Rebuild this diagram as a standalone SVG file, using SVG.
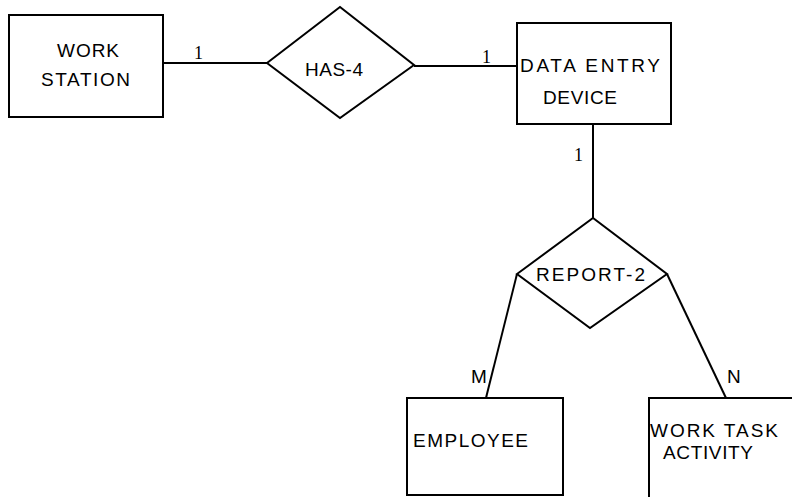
<svg xmlns="http://www.w3.org/2000/svg" width="792" height="497" viewBox="0 0 792 497">
<style>
.n{fill:#fff;stroke:#000;stroke-width:2}
.c{fill:none;stroke:#000;stroke-width:2}
text{font-family:"Liberation Sans",Arial,sans-serif;font-size:19px;fill:#000}
.k{font-family:"Liberation Serif","Times New Roman",serif;font-size:18px}
</style>
<rect width="792" height="497" fill="#fff"/>
<g id="connectors">
<line class="c" x1="163" y1="63" x2="267" y2="63"/>
<line class="c" x1="414" y1="66" x2="517" y2="66"/>
<line class="c" x1="593" y1="124" x2="593" y2="218"/>
<line class="c" x1="517" y1="274" x2="486" y2="398"/>
<line class="c" x1="667" y1="274" x2="726" y2="398"/>
<text class="k" x="194" y="59">1</text>
<text class="k" x="482" y="63">1</text>
<text class="k" x="574" y="161">1</text>
<text x="471" y="383">M</text>
<text x="727" y="383">N</text>
</g>
<g id="work-station">
<rect class="n" x="9" y="15" width="154" height="102"/>
<text x="57" y="57" textLength="62" lengthAdjust="spacing">WORK</text>
<text x="41" y="86" textLength="89" lengthAdjust="spacing">STATION</text>
</g>
<g id="has-4">
<polygon class="n" points="267,63 340,7 414,65 340,118"/>
<text x="305" y="76" textLength="58" lengthAdjust="spacing">HAS-4</text>
</g>
<g id="data-entry-device">
<rect class="n" x="517" y="23" width="154" height="101"/>
<text x="520" y="72" textLength="140" lengthAdjust="spacing">DATA ENTRY</text>
<text x="543" y="104" textLength="74" lengthAdjust="spacing">DEVICE</text>
</g>
<g id="report-2">
<polygon class="n" points="517,274 593,218 667,274 590,328"/>
<text x="536" y="281" textLength="109" lengthAdjust="spacing">REPORT-2</text>
</g>
<g id="employee">
<rect class="n" x="407" y="398" width="156" height="97"/>
<text x="413" y="447" textLength="115" lengthAdjust="spacing">EMPLOYEE</text>
</g>
<g id="work-task-activity">
<rect class="n" x="649" y="398" width="160" height="110"/>
<text x="650" y="437" textLength="128" lengthAdjust="spacing">WORK TASK</text>
<text x="663" y="459" textLength="90" lengthAdjust="spacing">ACTIVITY</text>
</g>
</svg>
